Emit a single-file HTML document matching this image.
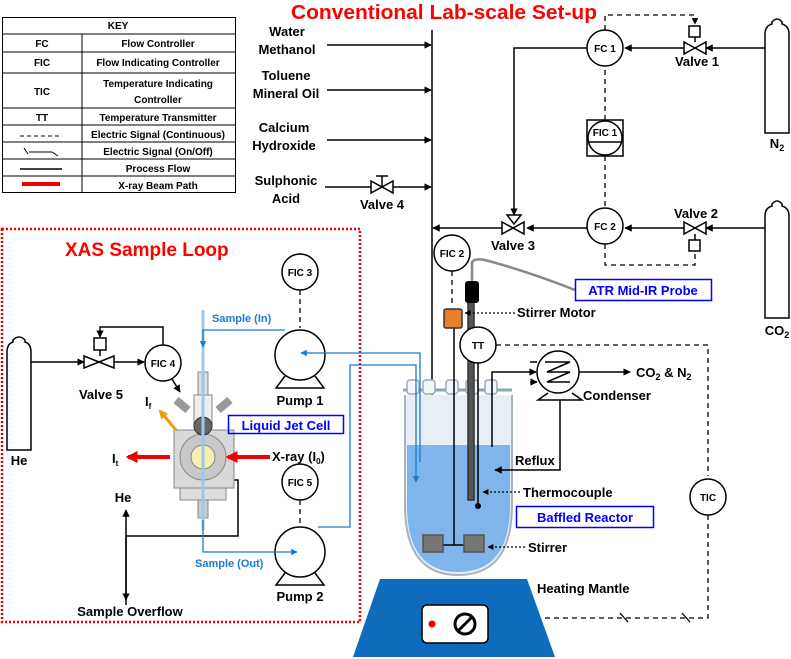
<!DOCTYPE html>
<html><head><meta charset="utf-8"><style>
body{margin:0;background:#fff}
svg{display:block;font-family:"Liberation Sans",Arial,sans-serif;font-weight:bold}
</style></head><body>
<svg width="791" height="659" viewBox="0 0 791 659" xmlns="http://www.w3.org/2000/svg">
<defs>
<marker id="a" viewBox="0 0 10 10" refX="9" refY="5" markerWidth="5" markerHeight="5" orient="auto"><path d="M0,0L10,5L0,10z" fill="#000"/></marker>
<marker id="ab" viewBox="0 0 10 10" refX="9" refY="5" markerWidth="5" markerHeight="5" orient="auto"><path d="M0,0L10,5L0,10z" fill="#1a7bd0"/></marker>
<marker id="ar" viewBox="0 0 10 10" refX="8" refY="5" markerWidth="3" markerHeight="3" orient="auto"><path d="M0,0L10,5L0,10z" fill="#e00"/></marker>
<marker id="ao" viewBox="0 0 10 10" refX="8" refY="5" markerWidth="3" markerHeight="3" orient="auto"><path d="M0,0L10,5L0,10z" fill="#f29a12"/></marker>
</defs>
<!-- KEY -->
<g stroke="#000" stroke-width="1" fill="none">
<rect x="2.5" y="17.5" width="233" height="175"/>
<path d="M2 34H235M2 52H235M2 73H235M2 108H235M2 125H235M2 142H235M2 159H235M2 176H235M82 34V192"/>
<path d="M20 136H62" stroke-dasharray="4,3"/>
<path d="M20 169H62" stroke-width="1.5"/>
<path d="M22 184H60" stroke="#e00" stroke-width="4"/>
<path d="M24 148L28 154M29 152H52M52 152L58 156"/>
</g>
<g font-size="10" text-anchor="middle">
<text x="118" y="29">KEY</text>
<text x="42" y="47">FC</text><text x="158" y="47">Flow Controller</text>
<text x="42" y="66">FIC</text><text x="158" y="66">Flow Indicating Controller</text>
<text x="42" y="95">TIC</text><text x="158" y="87">Temperature Indicating</text><text x="158" y="103">Controller</text>
<text x="42" y="121">TT</text><text x="158" y="121">Temperature Transmitter</text>
<text x="158" y="138">Electric Signal (Continuous)</text>
<text x="158" y="155">Electric Signal (On/Off)</text>
<text x="158" y="172">Process Flow</text>
<text x="158" y="189">X-ray Beam Path</text>
</g>
<text x="444" y="19" font-size="20" fill="#f00" text-anchor="middle" textLength="306" lengthAdjust="spacingAndGlyphs">Conventional Lab-scale Set-up</text>
<!-- inputs -->
<g font-size="13" text-anchor="middle">
<text x="287" y="36">Water</text><text x="287" y="54">Methanol</text>
<text x="286" y="80">Toluene</text><text x="286" y="98">Mineral Oil</text>
<text x="284" y="132">Calcium</text><text x="284" y="150">Hydroxide</text>
<text x="286" y="185">Sulphonic</text><text x="286" y="203">Acid</text>
<text x="382" y="209">Valve 4</text>
<text x="697" y="66">Valve 1</text><text x="696" y="218">Valve 2</text>
<text x="513" y="250">Valve 3</text>
<text x="777" y="148">N<tspan font-size="9" dy="3">2</tspan></text>
<text x="777" y="335">CO<tspan font-size="9" dy="3">2</tspan></text>
</g>
<g stroke="#000" stroke-width="1.5" fill="none">
<path d="M327 45H431" marker-end="url(#a)"/>
<path d="M327 90H431" marker-end="url(#a)"/>
<path d="M327 140H431" marker-end="url(#a)"/>
<path d="M325 187H371M393 187H431" marker-end="url(#a)"/>
<path d="M432 30V458" marker-end="url(#a)"/>
<path d="M371 181L393 193V181L371 193Z" fill="#fff"/><path d="M382 187V176M376 176H388"/>
<path d="M765 48H706"  marker-end="url(#a)"/>
<path d="M684 48H625" marker-end="url(#a)"/>
<path d="M684 42L706 54V42L684 54Z" fill="#fff"/><rect x="689" y="26" width="11" height="11" fill="#fff"/><path d="M695 37V42"/>
<circle cx="605" cy="48" r="18" fill="#fff"/>
<path d="M587 48H514V215" marker-end="url(#a)"/>
<path d="M765 228H706" marker-end="url(#a)"/>
<path d="M684 228H625" marker-end="url(#a)"/>
<path d="M684 222L706 234V222L684 234Z" fill="#fff"/><rect x="689" y="240" width="11" height="11" fill="#fff"/><path d="M695 234V240"/>
<circle cx="605" cy="226" r="18" fill="#fff"/>
<path d="M587 228H527" marker-end="url(#a)"/>
<path d="M502 228H433" marker-end="url(#a)"/>
<path d="M502 222L524 234V222L502 234Z" fill="#fff"/><path d="M507 215L521 215L514 224Z" fill="#fff"/>
<rect x="587" y="120" width="36" height="36" fill="#fff"/><circle cx="605" cy="138" r="17"/><path d="M588 142H622"/>
<path d="M765 133V34Q765 26 772 24V22Q777 16 782 22V24Q789 26 789 34V133Z" fill="#fff"/>
<path d="M765 318V216Q765 208 772 206V204Q777 198 782 204V206Q789 208 789 216V318Z" fill="#fff"/>
<path d="M7 450V352Q7 344 13 342V340Q19 334 25 340V342Q31 344 31 352V450Z" fill="#fff"/>
</g>
<g stroke="#000" stroke-width="1.3" fill="none" stroke-dasharray="5,4">
<path d="M605 30V15H695V24" marker-end="url(#a)"/>
<path d="M605 120V68"/><path d="M605 156V206"/>
<path d="M605 244V265H695V253"/>
<path d="M452 271V306"/>
<path d="M300 290V328"/><path d="M300 500V527"/>
<path d="M496 345H708V476"/>
<path d="M708 515V618H545"/>
</g>
<path d="M620 613L628 622M682 613L690 622" stroke="#000" stroke-width="1.3"/>
<g font-size="10" text-anchor="middle">
<text x="605" y="52">FC 1</text><text x="605" y="230">FC 2</text><text x="605" y="136">FIC 1</text>
</g>
<!-- reactor -->
<g stroke-width="1.5">
<path d="M403 390H512" stroke="#8aa" stroke-width="3"/>
<path d="M405 395V505Q405 575 458 575Q512 575 512 505V395" fill="#e8eef6" stroke="#a8b4c4" stroke-width="2"/>
<path d="M407 445H510V505Q510 572 458 572Q407 572 407 505Z" fill="#7fb5ea"/>
<g fill="#f2f5fa" stroke="#9ab"><rect x="407" y="380" width="12" height="14" rx="3"/><rect x="423" y="380" width="12" height="14" rx="3"/><rect x="446" y="380" width="12" height="14" rx="3"/><rect x="466" y="380" width="12" height="14" rx="3"/><rect x="485" y="380" width="12" height="14" rx="3"/></g>
<path d="M454 320V545M427 545H483" stroke="#000"/>
<rect x="423" y="535" width="20" height="17" fill="#777" stroke="#555"/><rect x="464" y="535" width="20" height="17" fill="#777" stroke="#555"/>
<rect x="468" y="295" width="6" height="205" fill="#555" stroke="#333"/>
<rect x="465" y="281" width="14" height="22" rx="3" fill="#000"/>
<path d="M472 281V262Q475 258 485 260Q530 272 575 290" stroke="#888" stroke-width="2.5" fill="none"/>
<rect x="444" y="309" width="18" height="19" rx="2" fill="#e8802b" stroke="#333"/>
<path d="M478 363V505" stroke="#000"/><circle cx="478" cy="506" r="3" fill="#000"/>
<path d="M492 447V372H536" stroke="#000" fill="none" marker-end="url(#a)"/>
<path d="M560 392V470H495" stroke="#000" fill="none" marker-end="url(#a)"/>
<path d="M579 372H630" stroke="#000" marker-end="url(#a)"/>
<path d="M548 393L538 400H582L572 393" stroke="#000" fill="#fff"/>
<circle cx="558" cy="372" r="21" fill="#fff" stroke="#000"/>
<path d="M545 362H570L547 372H570L547 382H570" stroke="#000" fill="none"/>
<path d="M530 362H537M530 382H537" stroke="#000" marker-end="url(#a)"/>
</g>
<g stroke="#000" stroke-width="1.2" stroke-dasharray="2,2" fill="none">
<path d="M515 313H465" marker-end="url(#a)"/>
<path d="M520 492H483" marker-end="url(#a)"/>
<path d="M525 547H488" marker-end="url(#a)"/>
</g>
<g stroke="#000" stroke-width="1.5" fill="#fff">
<circle cx="452" cy="253" r="18"/><circle cx="478" cy="345" r="18"/><circle cx="708" cy="497" r="18"/>
</g>
<g font-size="10" text-anchor="middle"><text x="452" y="257">FIC 2</text><text x="478" y="349">TT</text><text x="708" y="501">TIC</text></g>
<g font-size="13">
<rect x="575.5" y="279.5" width="136" height="21" fill="none" stroke="#00f" stroke-width="1.5"/>
<text x="643" y="295" fill="#00f" text-anchor="middle">ATR Mid-IR Probe</text>
<text x="517" y="317">Stirrer Motor</text>
<text x="636" y="377">CO<tspan font-size="9" dy="3">2</tspan><tspan dy="-3"> &amp; N</tspan><tspan font-size="9" dy="3">2</tspan></text>
<text x="583" y="400">Condenser</text>
<text x="515" y="465">Reflux</text>
<text x="523" y="497">Thermocouple</text>
<rect x="516.5" y="506.5" width="137" height="21" fill="none" stroke="#00f" stroke-width="1.5"/>
<text x="585" y="522" fill="#00f" text-anchor="middle">Baffled Reactor</text>
<text x="528" y="552">Stirrer</text>
<text x="537" y="593">Heating Mantle</text>
</g>
<path d="M380 579H527L555 657H353Z" fill="#0f6cbd"/>
<rect x="422" y="605" width="66" height="38" rx="5" fill="#fff" stroke="#000" stroke-width="1.5"/>
<circle cx="432" cy="624" r="3.5" fill="#e00"/>
<circle cx="465" cy="624" r="10" fill="#fff" stroke="#000" stroke-width="3"/>
<path d="M458 631L472 617" stroke="#000" stroke-width="3"/>
<!-- XAS box -->
<rect x="2" y="229" width="358" height="393" fill="none" stroke="#e00" stroke-width="2.5" stroke-dasharray="2,2"/>
<text x="65" y="256" font-size="19" fill="#f00">XAS Sample Loop</text>
<g stroke="#000" stroke-width="1.5" fill="none">
<path d="M31 362H84" marker-end="url(#a)"/>
<path d="M84 356L114 368V356L84 368Z" fill="#fff"/><rect x="94" y="338" width="12" height="12" fill="#fff"/><path d="M100 350V356"/>
<path d="M114 362H144" marker-end="url(#a)"/>
<path d="M163 345V327H100V337" marker-end="url(#a)"/>
<circle cx="163" cy="363" r="18" fill="#fff"/>
<path d="M172 379L180 392" marker-end="url(#a)"/>
<circle cx="300" cy="272" r="18" fill="#fff"/>
<circle cx="300" cy="355" r="25" fill="#fff"/><path d="M285 376L276 388H324L315 376"/>
<circle cx="300" cy="482" r="18" fill="#fff"/>
<circle cx="300" cy="552" r="25" fill="#fff"/><path d="M285 573L276 585H324L315 573"/>
<path d="M126 605V510" marker-end="url(#a)"/><path d="M126 535V600" marker-end="url(#a)"/>
<path d="M126 536H238V480H222"/>
</g>
<g stroke="#888" stroke-width="1">
<rect x="198" y="372" width="10" height="25" fill="#ddd"/>
<rect x="194" y="395" width="18" height="30" fill="#eee"/>
<path d="M176 400L188 410M230 400L218 410" stroke="#999" stroke-width="8"/>
<rect x="174" y="430" width="60" height="58" fill="#d8d8d8"/>
<rect x="180" y="488" width="46" height="12" fill="#ddd"/>
<rect x="198" y="500" width="10" height="18" fill="#ccc"/>
<circle cx="203" cy="457" r="23" fill="#c8c8c8"/>
<circle cx="203" cy="457" r="12" fill="#f7eeb0"/>
<circle cx="203" cy="426" r="9" fill="#666" stroke="#333"/>
</g>
<path d="M203 310V530" stroke="#9cc8ee" stroke-width="3"/>
<g stroke="#1a7bd0" stroke-width="1.3" fill="none">
<path d="M285 330H203V347" marker-end="url(#ab)"/>
<path d="M420 462V353H301" marker-end="url(#ab)"/>
<path d="M318 527H350V365H416V482" marker-end="url(#ab)"/>
<path d="M203 520V552H297" marker-end="url(#ab)"/>
</g>
<path d="M176 430L160 411" stroke="#f29a12" stroke-width="3" marker-end="url(#ao)"/>
<path d="M170 457H128" stroke="#e00" stroke-width="4" marker-end="url(#ar)"/>
<path d="M270 457H228" stroke="#e00" stroke-width="4" marker-end="url(#ar)"/>
<g font-size="10" text-anchor="middle"><text x="163" y="367">FIC 4</text><text x="300" y="276">FIC 3</text><text x="300" y="486">FIC 5</text></g>
<g font-size="13">
<text x="19" y="465" text-anchor="middle">He</text>
<text x="101" y="399" text-anchor="middle">Valve 5</text>
<text x="145" y="406">I<tspan font-size="8" dy="3">f</tspan></text>
<text x="112" y="463">I<tspan font-size="8" dy="3">t</tspan></text>
<text x="272" y="461">X-ray (I<tspan font-size="8" dy="3">0</tspan><tspan dy="-3">)</tspan></text>
<text x="123" y="502" text-anchor="middle">He</text>
<text x="130" y="616" text-anchor="middle">Sample Overflow</text>
<text x="300" y="405" text-anchor="middle">Pump 1</text>
<text x="300" y="601" text-anchor="middle">Pump 2</text>
<rect x="228.5" y="415.5" width="115" height="18" fill="none" stroke="#00f" stroke-width="1.5"/>
<text x="286" y="430" fill="#00f" text-anchor="middle">Liquid Jet Cell</text>
</g>
<g font-size="11" fill="#1a7bd0">
<text x="212" y="322">Sample (In)</text>
<text x="195" y="567">Sample (Out)</text>
</g>
</svg>
</body></html>
